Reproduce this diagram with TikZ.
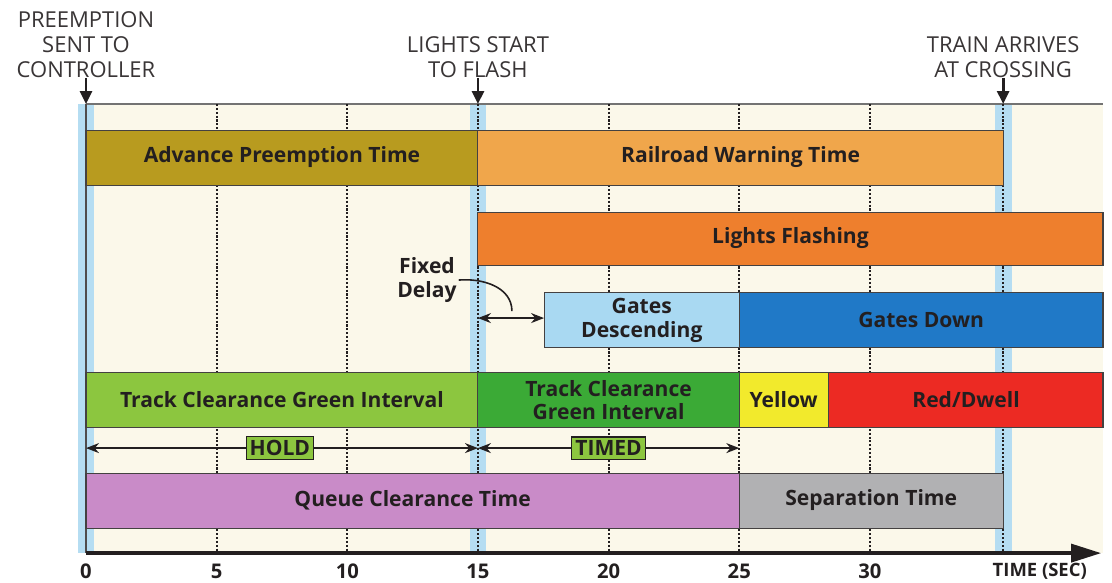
\documentclass[tikz,border=0pt]{standalone}
\usepackage{fontspec}
\setmainfont{Open Sans}
\usepackage{xcolor}
\usetikzlibrary{arrows.meta}

\definecolor{cream}{HTML}{FBF8EA}
\definecolor{hlblue}{HTML}{B5DDF2}
\definecolor{aptcol}{HTML}{B89B1F}
\definecolor{rwtcol}{HTML}{F0A64B}
\definecolor{flashcol}{HTML}{EE7F2D}
\definecolor{gdesccol}{HTML}{A9D9F2}
\definecolor{gdowncol}{HTML}{2079C7}
\definecolor{tcgacol}{HTML}{8CC63F}
\definecolor{tcgbcol}{HTML}{3BAA36}
\definecolor{yelcol}{HTML}{F2EA2C}
\definecolor{redcol}{HTML}{EC2A23}
\definecolor{queuecol}{HTML}{C98BC8}
\definecolor{sepcol}{HTML}{B1B1B3}
\definecolor{ink}{HTML}{231F20}

\tikzset{
  phase/.style={draw=ink!85, line width=0.6pt},
  lbl/.style={font=\bfseries\fontsize{12}{13.5}\selectfont, text=ink, align=center, inner sep=1pt},
  event/.style={font=\fontsize{12.5}{14.2}\selectfont, text=ink!90, align=center, inner sep=0pt},
  evarrow/.style={-{Triangle[length=2.6mm,width=2.4mm]}, line width=1.6pt, ink},
  span/.style={{Stealth[length=2.6mm,width=2mm]}-{Stealth[length=2.6mm,width=2mm]}, line width=0.9pt, ink},
  tag/.style={lbl, fill=tcgacol, draw=ink, line width=0.7pt, inner sep=2pt},
  tick/.style={font=\bfseries\fontsize{11.5}{12}\selectfont, text=ink, inner sep=0pt}
}

\begin{document}
\begin{tikzpicture}[x=0.5226cm, y=-0.02cm]
\useasboundingbox (-3.2912,0) rectangle (39.265,582);

% Background of the chart
\fill[cream] (0,104) rectangle (38.92,553);
\foreach \t in {0,15,35.1} {
    \fill[hlblue] (\t-0.32,104) rectangle (\t+0.32,553);
}
\draw[black!55, line width=0.6pt] (0,104) -- (38.92,104);
\draw[ink!80, line width=0.6pt] (0,104) -- (0,553);
\foreach \t in {5,10,...,30,35.1} {
    \draw[ink, densely dotted, line width=1.2pt] (\t,104) -- (\t,553);
}

% Events at the top
\node[event] (pre) at (0,45) {PREEMPTION\\SENT TO\\CONTROLLER};
\node[event] (lsf) at (15,57) {LIGHTS START\\TO FLASH};
\node[event] (tac) at (35.1,57) {TRAIN ARRIVES\\AT CROSSING};
\coordinate (t0) at (0,104);
\coordinate (t15) at (15,104);
\coordinate (t35) at (35.1,104);
\draw[evarrow] (pre.south) -- (t0);
\draw[evarrow] (lsf.south) -- (t15);
\draw[evarrow] (tac.south) -- (t35);

% Row 1
\draw[phase, fill=aptcol] (0,130) rectangle (15,185);
\node[lbl] (apt) at (7.5,157) {Advance Preemption Time};
\draw[phase, fill=rwtcol] (15,130) rectangle (35.1,185);
\node[lbl] (rwt) at (25.05,157) {Railroad Warning Time};

% Row 2
\draw[phase, fill=flashcol] (15,212) rectangle (38.92,265);
\node[lbl] (flash) at (26.96,238) {Lights Flashing};

% Row 3
\draw[phase, fill=gdesccol] (17.53,292) rectangle (25,347);
\node[lbl] (gdesc) at (21.27,320) {Gates\\Descending};
\draw[phase, fill=gdowncol] (25,292) rectangle (38.92,347);
\node[lbl] (gdown) at (31.96,320) {Gates Down};

% Fixed delay
\node[lbl] (fd) at (13.05,280) {Fixed\\Delay};
\coordinate (fd0) at (15,318);
\coordinate (fd1) at (17.53,318);
\coordinate (fdtip) at (16.3,311);
\draw[span] (fd0) -- (fd1);
\draw[ink, line width=0.9pt] (fd.east) to[out=5, in=90] (fdtip);

% Row 4
\draw[phase, fill=tcgacol] (0,372) rectangle (15,427);
\node[lbl] (tcga) at (7.5,400) {Track Clearance Green Interval};
\draw[phase, fill=tcgbcol] (15,372) rectangle (25,427);
\node[lbl] (tcgb) at (20,400) {Track Clearance\\Green Interval};
\draw[phase, fill=yelcol] (25,372) rectangle (28.43,427);
\node[lbl] (yel) at (26.7,400) {Yellow};
\draw[phase, fill=redcol] (28.43,372) rectangle (38.92,427);
\node[lbl] (red) at (33.68,400) {Red/Dwell};

% Hold and timed spans
\coordinate (h0) at (0,448);
\coordinate (h1) at (15,448);
\coordinate (h2) at (25,448);
\draw[span] (h0) -- (h1);
\draw[span] (h1) -- (h2);
\node[tag] (hold) at (7.42,448) {HOLD};
\node[tag] (timed) at (20,448) {TIMED};

% Row 5
\draw[phase, fill=queuecol] (0,473) rectangle (25,528);
\node[lbl] (queue) at (12.5,500) {Queue Clearance Time};
\draw[phase, fill=sepcol] (25,473) rectangle (35.1,528);
\node[lbl] (sep) at (30.05,500) {Separation Time};

% Time axis
\coordinate (origin) at (0,553);
\coordinate (axend) at (38.85,553);
\draw[-{Triangle[length=6mm,width=3.6mm]}, line width=2pt, ink] (origin) -- (axend);
\foreach \t in {0,5,...,30} {
    \node[tick] at (\t,571) {\t};
}
\node[tick, font=\bfseries\fontsize{10.5}{11}\selectfont] (tunit) at (36.5,571) {TIME (SEC)};
\end{tikzpicture}
\end{document}
